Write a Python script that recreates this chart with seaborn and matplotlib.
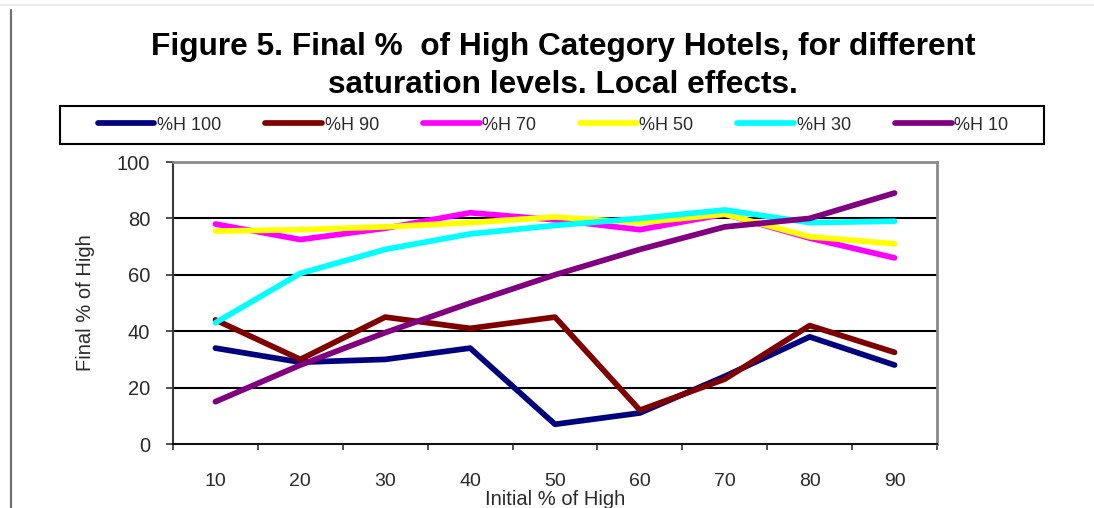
import matplotlib
matplotlib.use("Agg")
import matplotlib.pyplot as plt
from matplotlib.lines import Line2D
from matplotlib.patches import Rectangle
import seaborn as sns
import pandas as pd

# Initial share of high-category hotels (x categories)
initial_pct = ["10", "20", "30", "40", "50", "60", "70", "80", "90"]

# Final share of high-category hotels for each saturation level
h100 = [34, 29, 30, 34, 7, 11, 24, 38, 28]
h90 = [44, 30, 45, 41, 45, 12, 23, 42, 32.5]
h70 = [78, 72.5, 76.5, 82, 79.5, 76, 81.5, 73, 66]
h50 = [75.5, 76, 77, 78.5, 80.5, 78.5, 81.5, 73.5, 71]
h30 = [43, 60.5, 69, 74.5, 77.5, 80, 83, 78.5, 79]
h10 = [15, 28, 39.5, 50, 60, 69, 77, 80, 89]

series_names = ["%H 100", "%H 90", "%H 70", "%H 50", "%H 30", "%H 10"]
series_values = [h100, h90, h70, h50, h30, h10]
series_colors = ["#000080", "#800000", "#FF00FF", "#FFFF00", "#00FFFF", "#800080"]

y_ticks = [0, 20, 40, 60, 80, 100]

records = []
for name, vals in zip(series_names, series_values):
    for cat, v in zip(initial_pct, vals):
        records.append({"initial": cat, "final": v, "series": name})
df = pd.DataFrame(records)

sns.set_theme(style="white")
plt.rcParams["font.family"] = ["Liberation Sans", "DejaVu Sans"]

W, H = 1094, 508
fig = plt.figure(figsize=(W / 100, H / 100), dpi=100)
fig.patch.set_facecolor("white")

ax = fig.add_axes([173 / W, 1 - 444 / H, 764 / W, 282 / H])
ax.set_facecolor("white")

sns.lineplot(
    data=df, x="initial", y="final", hue="series",
    hue_order=series_names, palette=series_colors,
    sort=False, ax=ax, linewidth=4.1,
    solid_capstyle="round", solid_joinstyle="round",
)

ax.set_xlim(-0.5, len(initial_pct) - 0.5)
ax.set_ylim(0, 100)

# horizontal gridlines
for yv in y_ticks[1:-1]:
    ax.axhline(yv, color="black", lw=1.5, zorder=0.5)

# spines
for side in ["top", "right"]:
    ax.spines[side].set_color("#8a8a8a")
    ax.spines[side].set_linewidth(2.0)
ax.spines["left"].set_color("#3a3a3a")
ax.spines["left"].set_linewidth(1.5)
ax.spines["bottom"].set_color("#111111")
ax.spines["bottom"].set_linewidth(1.5)

tick_color = "#2a2a2a"
ax.set_yticks(y_ticks)
ax.set_yticklabels([str(t) for t in y_ticks])
ax.tick_params(axis="y", which="major", left=True, length=5, width=1.2,
               color="#333333", pad=11.5, labelsize=14.5, labelcolor=tick_color)

# category boundaries carry the tick marks, centers carry the labels
ax.set_xticks([i - 0.5 for i in range(len(initial_pct) + 1)])
ax.set_xticklabels([""] * (len(initial_pct) + 1))
ax.set_xticks(range(len(initial_pct)), minor=True)
ax.set_xticklabels(initial_pct, minor=True)
ax.tick_params(axis="x", which="major", bottom=True, length=4.5, width=1.2,
               color="#333333")
ax.tick_params(axis="x", which="minor", bottom=True, length=0, pad=21,
               labelsize=14, labelcolor=tick_color)

ax.set_xlabel("Initial % of High", fontsize=14.5, color=tick_color)
ax.xaxis.set_label_coords(0.5, -0.197)
ax.xaxis.label.set_va("center")
ax.set_ylabel("Final % of High", fontsize=14.5, color=tick_color)
ax.yaxis.set_label_coords(-0.115, 0.5)
ax.yaxis.label.set_va("center")

# legend across the top in a single row, inside a drawn box
handles, labels = ax.get_legend_handles_labels()
ax.get_legend().remove()
leg = fig.legend(
    handles, labels, ncol=6, loc="center",
    bbox_to_anchor=(553 / W, 1 - 125 / H),
    frameon=False, fontsize=13, handlelength=3.15,
    handletextpad=0.15, columnspacing=2.42, borderaxespad=0,
)
for t in leg.get_texts():
    t.set_color(tick_color)
for lh in leg.legend_handles:
    lh.set_linewidth(4.1)
    lh.set_solid_capstyle("round")
fig.add_artist(Rectangle((60 / W, 1 - 144 / H), 984 / W, 38 / H,
                         transform=fig.transFigure, fill=False,
                         edgecolor="black", lw=1.5))

# title in two centered lines
fig.text(563 / W, 1 - 55 / H, "Figure 5. Final %  of High Category Hotels, for different",
         ha="center", va="baseline", fontsize=22.8, fontweight="bold", color="black")
fig.text(563 / W, 1 - 93 / H, "saturation levels. Local effects.",
         ha="center", va="baseline", fontsize=22.8, fontweight="bold", color="black")

# page edges
fig.add_artist(Line2D([0, 1], [1 - 5 / H, 1 - 5 / H], transform=fig.transFigure,
                      color="#e6e6e6", lw=1.2))
fig.add_artist(Line2D([11 / W, 11 / W], [0, 1 - 10 / H], transform=fig.transFigure,
                      color="#707070", lw=1.6))

fig.savefig("out.png", dpi=100, facecolor="white")
